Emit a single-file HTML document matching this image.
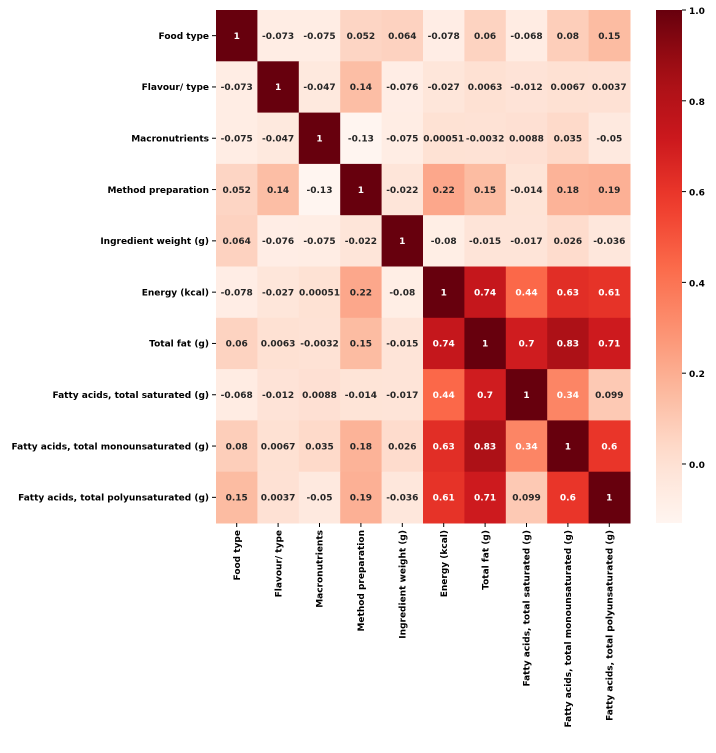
<!DOCTYPE html>
<html><head><meta charset="utf-8"><style>
body{margin:0;background:#fff;}
svg text{font-family:"DejaVu Sans","Liberation Sans",sans-serif;font-weight:bold;font-size:9px;}
</style></head><body>
<svg id="c" width="716" height="748"></svg>
<script>
const labels=["Food type","Flavour/ type","Macronutrients","Method preparation","Ingredient weight (g)","Energy (kcal)","Total fat  (g)","Fatty acids, total saturated (g)","Fatty acids, total monounsaturated (g)","Fatty acids, total polyunsaturated (g)"];
const values=[
[1,-0.073,-0.075,0.052,0.064,-0.078,0.06,-0.068,0.08,0.15],
[-0.073,1,-0.047,0.14,-0.076,-0.027,0.0063,-0.012,0.0067,0.0037],
[-0.075,-0.047,1,-0.13,-0.075,0.00051,-0.0032,0.0088,0.035,-0.05],
[0.052,0.14,-0.13,1,-0.022,0.22,0.15,-0.014,0.18,0.19],
[0.064,-0.076,-0.075,-0.022,1,-0.08,-0.015,-0.017,0.026,-0.036],
[-0.078,-0.027,0.00051,0.22,-0.08,1,0.74,0.44,0.63,0.61],
[0.06,0.0063,-0.0032,0.15,-0.015,0.74,1,0.7,0.83,0.71],
[-0.068,-0.012,0.0088,-0.014,-0.017,0.44,0.7,1,0.34,0.099],
[0.08,0.0067,0.035,0.18,0.026,0.63,0.83,0.34,1,0.6],
[0.15,0.0037,-0.05,0.19,-0.036,0.61,0.71,0.099,0.6,1]];
const cbTicks=[1.0,0.8,0.6,0.4,0.2,0.0];
const vmin=-0.13,vmax=1;
const X0=216,Y0=10,W=414,H=513,n=labels.length,cw=W/n,ch=H/n;
const stops=[[255,245,240],[254,224,210],[252,187,161],[252,146,114],[251,106,74],[239,59,44],[203,24,29],[165,15,21],[103,0,13]];
function cmap(v){let t=Math.max(0,Math.min(1,(v-vmin)/(vmax-vmin)))*8;let i=Math.min(7,Math.floor(t)),f=t-i;
const a=stops[i],b=stops[i+1];return a.map((x,k)=>Math.round(x+(b[k]-x)*f));}
function lum(c){const l=c.map(x=>{x/=255;return x<=0.03928?x/12.92:Math.pow((x+0.055)/1.055,2.4)});return 0.2126*l[0]+0.7152*l[1]+0.0722*l[2];}
const svg=document.getElementById('c'),NS="http://www.w3.org/2000/svg";
function mk(t,a,p){const e=document.createElementNS(NS,t);for(const k in a)e.setAttribute(k,a[k]);(p||svg).appendChild(e);return e;}
function fmt(v){return String(v);}
for(let r=0;r<n;r++)for(let c=0;c<n;c++){const v=values[r][c],col=cmap(v);
const rect=mk('rect',{x:X0+c*cw,y:Y0+r*ch,width:cw+0.5,height:ch+0.5,fill:`rgb(${col})`});


const t=mk('text',{x:X0+(c+0.5)*cw,y:Y0+(r+0.5)*ch+3.2,'text-anchor':'middle',fill:lum(col)>0.408?'#262626':'#fff'});
t.textContent=fmt(v);

}
for(let i=0;i<n;i++){
const y=Y0+(i+0.5)*ch;mk('line',{x1:X0-4,x2:X0,y1:y,y2:y,stroke:'#000'});
const t=mk('text',{x:X0-7,y:y+3.2,'text-anchor':'end',fill:'#000'});t.textContent=labels[i];


const x=X0+(i+0.5)*cw;mk('line',{x1:x,x2:x,y1:Y0+H,y2:Y0+H+4,stroke:'#000'});
const u=mk('text',{x:x+3.2,y:Y0+H+7,'text-anchor':'end',fill:'#000',transform:`rotate(-90 ${x+3.2} ${Y0+H+7})`});u.textContent=labels[i];

}
const CX=656,CW=26;
const defs=mk('defs',{});const g=mk('linearGradient',{id:'gr',x1:0,y1:1,x2:0,y2:0},defs);
for(let i=0;i<=20;i++){const col=cmap(vmin+(vmax-vmin)*i/20);mk('stop',{offset:i/20,'stop-color':`rgb(${col})`},g);}
const cb=mk('rect',{x:CX,y:Y0,width:CW,height:H,fill:'url(#gr)'});


function cy(v){return Y0+H*(vmax-v)/(vmax-vmin);}
cbTicks.forEach(v=>{const y=cy(v);mk('line',{x1:CX+CW,x2:CX+CW+4,y1:y,y2:y,stroke:'#000'});
const t=mk('text',{x:CX+CW+7,y:y+4,fill:'#000','font-size':'10'});t.textContent=v.toFixed(1);

});
</script>
</body></html>
